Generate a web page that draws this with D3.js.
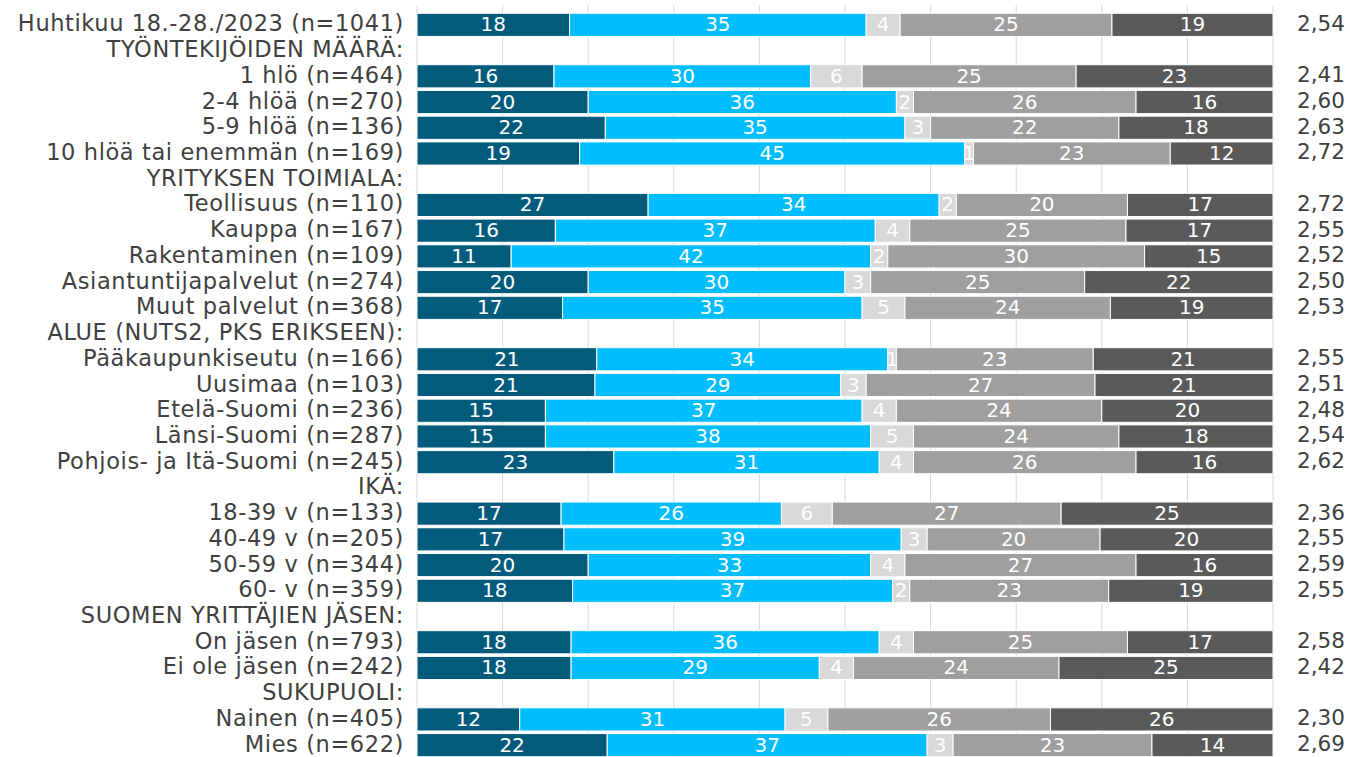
<!DOCTYPE html>
<html><head><meta charset="utf-8">
<script src="https://cdn.jsdelivr.net/npm/d3@7"></script>
<style>body{margin:0;background:#fff}svg{display:block}</style>
</head><body>
<svg id="c" width="1350" height="757"></svg>
<script>
const categories = [
  "Huhtikuu 18.-28./2023 (n=1041)",
  "TYÖNTEKIJÖIDEN MÄÄRÄ:",
  "1 hlö (n=464)",
  "2-4 hlöä (n=270)",
  "5-9 hlöä (n=136)",
  "10 hlöä tai enemmän (n=169)",
  "YRITYKSEN TOIMIALA:",
  "Teollisuus (n=110)",
  "Kauppa (n=167)",
  "Rakentaminen (n=109)",
  "Asiantuntijapalvelut (n=274)",
  "Muut palvelut (n=368)",
  "ALUE (NUTS2, PKS ERIKSEEN):",
  "Pääkaupunkiseutu (n=166)",
  "Uusimaa (n=103)",
  "Etelä-Suomi (n=236)",
  "Länsi-Suomi (n=287)",
  "Pohjois- ja Itä-Suomi (n=245)",
  "IKÄ:",
  "18-39 v (n=133)",
  "40-49 v (n=205)",
  "50-59 v (n=344)",
  "60- v (n=359)",
  "SUOMEN YRITTÄJIEN JÄSEN:",
  "On jäsen (n=793)",
  "Ei ole jäsen (n=242)",
  "SUKUPUOLI:",
  "Nainen (n=405)",
  "Mies (n=622)"
];
const s1 = [18,null,16,20,22,19,null,27,16,11,20,17,null,21,21,15,15,23,null,17,17,20,18,null,18,18,null,12,22];
const s2 = [35,null,30,36,35,45,null,34,37,42,30,35,null,34,29,37,38,31,null,26,39,33,37,null,36,29,null,31,37];
const s3 = [4,null,6,2,3,1,null,2,4,2,3,5,null,1,3,4,5,4,null,6,3,4,2,null,4,4,null,5,3];
const s4 = [25,null,25,26,22,23,null,20,25,30,25,24,null,23,27,24,24,26,null,27,20,27,23,null,25,24,null,26,23];
const s5 = [19,null,23,16,18,12,null,17,17,15,22,19,null,21,21,20,18,16,null,25,20,16,19,null,17,25,null,26,14];
const averages = ["2,54",null,"2,41","2,60","2,63","2,72",null,"2,72","2,55","2,52","2,50","2,53",null,"2,55","2,51","2,48","2,54","2,62",null,"2,36","2,55","2,59","2,55",null,"2,58","2,42",null,"2,30","2,69"];
const xTicks = [0,10,20,30,40,50,60,70,80,90,100];

const series = [s1,s2,s3,s4,s5];
const colors = ["#035b7c","#00bdfd","#d9d9d9","#9f9f9f","#5a5a5a"];

const svg = d3.select("#c");
const mLeft = 417, mRight = 1273, mTop = 12, mBottom = 758;
const x = d3.scaleLinear().domain([0,100]).range([mLeft,mRight]);
const y = d3.scaleBand().domain(d3.range(categories.length)).range([mTop,mBottom]).paddingInner(0.1).paddingOuter(0.05);
const FONT = "DejaVu Sans, Verdana, sans-serif";

// gridlines
svg.append("g").selectAll("line").data(xTicks).join("line")
  .attr("x1",d=>x(d)).attr("x2",d=>x(d)).attr("y1",5).attr("y2",757)
  .attr("stroke","#d9d9d9").attr("stroke-width",1);

const rows = categories.map((c,i)=>({i, vals: series.map(s=>s[i])})).filter(r=>r.vals[0]!==null);

rows.forEach(r=>{
  const total = d3.sum(r.vals);
  const xr = d3.scaleLinear().domain([0,total]).range([mLeft,mRight]);
  let acc = 0;
  const g = svg.append("g");
  r.vals.forEach((v,k)=>{
    const x0 = xr(acc), x1 = xr(acc+v);
    acc += v;
    g.append("rect").attr("x",x0).attr("y",y(r.i)).attr("width",x1-x0).attr("height",y.bandwidth())
      .attr("fill",colors[k]).attr("stroke","#ffffff").attr("stroke-width",1);
    g.append("text").attr("x",(x0+x1)/2).attr("y",y(r.i)+y.bandwidth()/2+1)
      .attr("text-anchor","middle").attr("dominant-baseline","middle")
      .attr("font-family",FONT).attr("font-size",20)
      .attr("fill","#ffffff").text(v);
  });
});

// category labels
svg.append("g").selectAll("text").data(categories).join("text")
  .attr("x",404).attr("y",(d,i)=>y(i)+y.bandwidth()/2)
  .attr("text-anchor","end").attr("dominant-baseline","middle")
  .attr("font-family",FONT).attr("font-size",22.5).attr("letter-spacing",0.6)
  .attr("fill","#404040").text(d=>d);

// averages
svg.append("g").selectAll("text").data(averages.map((a,i)=>({a,i})).filter(d=>d.a!==null)).join("text")
  .attr("x",1297).attr("y",d=>y(d.i)+y.bandwidth()/2)
  .attr("text-anchor","start").attr("dominant-baseline","middle")
  .attr("font-family",FONT).attr("font-size",21.5)
  .attr("fill","#404040").text(d=>d.a);
</script>
</body></html>
